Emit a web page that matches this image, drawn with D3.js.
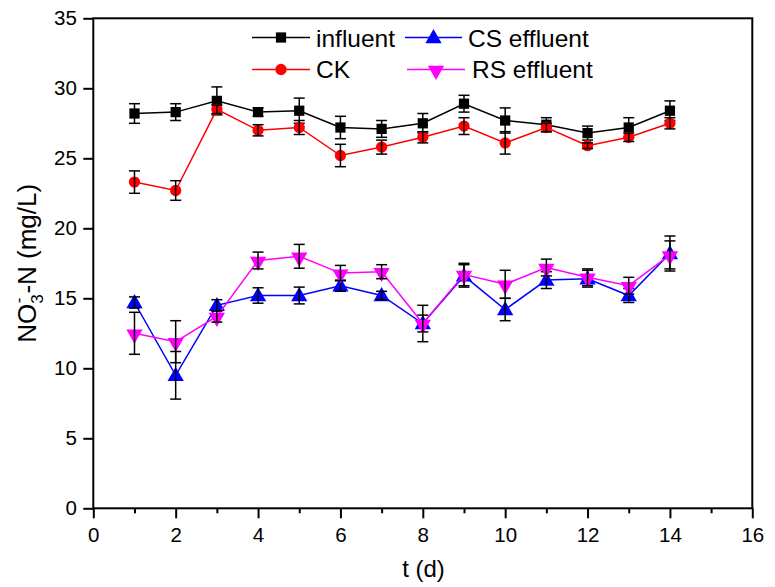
<!DOCTYPE html>
<html>
<head>
<meta charset="utf-8">
<script src="https://cdn.jsdelivr.net/npm/d3@7"></script>
<style>
  body { margin: 0; background: #fff; }
  svg text { font-family: "Liberation Sans", Arial, sans-serif; fill: #000; }
</style>
</head>
<body>
<svg id="chart"></svg>
<script>
// Days
const days = [1, 2, 3, 4, 5, 6, 7, 8, 9, 10, 11, 12, 13, 14];

// NO3--N values (mg/L) and standard deviations
const influent    = [28.2, 28.3, 29.1, 28.3, 28.4, 27.2, 27.1, 27.5, 28.9, 27.7, 27.4, 26.8, 27.2, 28.4];
const influentErr = [0.7, 0.6, 1.0, 0.3, 0.9, 0.8, 0.6, 0.7, 0.6, 0.9, 0.5, 0.5, 0.7, 0.7];
const ck          = [23.3, 22.7, 28.5, 27.0, 27.2, 25.2, 25.8, 26.5, 27.3, 26.1, 27.2, 25.9, 26.5, 27.5];
const ckErr       = [0.8, 0.7, 0.3, 0.4, 0.5, 0.8, 0.5, 0.4, 0.6, 0.8, 0.3, 0.2, 0.3, 0.4];
const csEffluent  = [14.7, 9.5, 14.5, 15.2, 15.2, 15.9, 15.2, 13.2, 16.6, 14.2, 16.3, 16.4, 15.2, 18.2];
const csErr       = [0.4, 1.7, 0.4, 0.55, 0.6, 0.4, 0.3, 1.3, 0.8, 0.8, 0.6, 0.6, 0.5, 1.25];
const rsEffluent  = [12.5, 11.9, 13.7, 17.7, 18.0, 16.8, 16.9, 13.2, 16.7, 16.0, 17.2, 16.5, 15.9, 18.1];
const rsErr       = [1.5, 1.5, 0.4, 0.6, 0.85, 0.55, 0.5, 0.6, 0.8, 1.0, 0.6, 0.6, 0.6, 1.0];

// Axis ticks
const xTicks = [0, 2, 4, 6, 8, 10, 12, 14, 16];
const xMinorTicks = [1, 3, 5, 7, 9, 11, 13, 15];
const yTicks = [0, 5, 10, 15, 20, 25, 30, 35];

// Series definitions
const series = [
    { name: 'influent',    values: influent,   errs: influentErr, color: '#000000', symbol: d3.symbolSquare },
    { name: 'CK',          values: ck,         errs: ckErr,       color: '#ff0000', symbol: d3.symbolCircle },
    { name: 'CS effluent', values: csEffluent, errs: csErr,       color: '#0000ff', symbol: d3.symbolTriangle },
    { name: 'RS effluent', values: rsEffluent, errs: rsErr,       color: '#ff00ff', symbol: 'down' }
];

// SVG dimensions
let width = 775, height = 587;
let plotLeft = 93.3, plotRight = 752.3, plotTop = 18.3, plotBottom = 508.3;

let svg = d3.select('#chart').attr('width', width).attr('height', height);

let xScale = d3.scaleLinear().domain([0, 16]).range([plotLeft, plotRight]);
let yScale = d3.scaleLinear().domain([0, 35]).range([plotBottom, plotTop]);

// Marker path for a series
function markerPath(symbol) {
    if (symbol === 'down') {
        return d3.symbol().type(d3.symbolTriangle).size(115)();
    }
    let size = symbol === d3.symbolSquare ? 105 : (symbol === d3.symbolCircle ? 100 : 115);
    return d3.symbol().type(symbol).size(size)();
}

function drawMarker(g, s, x, y) {
    let t = s.symbol === 'down'
        ? `translate(${x},${y + 1}) rotate(180)`
        : (s.symbol === d3.symbolTriangle ? `translate(${x},${y + 1})` : `translate(${x},${y})`);
    g.append('path')
        .attr('d', markerPath(s.symbol))
        .attr('transform', t)
        .attr('fill', s.color);
}

// Draw lines, markers and error bars
let line = d3.line()
    .x((d, i) => xScale(days[i]))
    .y(d => yScale(d));

series.forEach(s => {
    let g = svg.append('g');
    g.append('path')
        .attr('d', line(s.values))
        .attr('fill', 'none')
        .attr('stroke', s.color)
        .attr('stroke-width', 1.5);

    s.values.forEach((v, i) => drawMarker(g, s, xScale(days[i]), yScale(v)));

    s.values.forEach((v, i) => {
        let x = xScale(days[i]);
        let y1 = yScale(v - s.errs[i]), y2 = yScale(v + s.errs[i]);
        g.append('line').attr('x1', x).attr('x2', x).attr('y1', y1).attr('y2', y2)
            .attr('stroke', '#000').attr('stroke-width', 1.5);
        [y1, y2].forEach(yy => {
            g.append('line').attr('x1', x - 5.5).attr('x2', x + 5.5).attr('y1', yy).attr('y2', yy)
                .attr('stroke', '#000').attr('stroke-width', 1.5);
        });
    });
});

// Frame
svg.append('rect')
    .attr('x', plotLeft).attr('y', plotTop)
    .attr('width', plotRight - plotLeft).attr('height', plotBottom - plotTop)
    .attr('fill', 'none').attr('stroke', '#000').attr('stroke-width', 2);

// X axis
let xAxis = d3.axisBottom(xScale).tickValues(xTicks).tickSize(10).tickPadding(9).tickFormat(d3.format('d'));
let xg = svg.append('g').attr('transform', `translate(0, ${plotBottom})`).call(xAxis);
xg.select('.domain').remove();
xg.selectAll('line').attr('stroke-width', 2);
xg.selectAll('text').attr('font-size', 20.5).attr('font-family', '"Liberation Sans", Arial, sans-serif');

let xMinor = d3.axisBottom(xScale).tickValues(xMinorTicks).tickSize(5).tickFormat('');
let xmg = svg.append('g').attr('transform', `translate(0, ${plotBottom})`).call(xMinor);
xmg.select('.domain').remove();
xmg.selectAll('line').attr('stroke-width', 2);

// Y axis
let yAxis = d3.axisLeft(yScale).tickValues(yTicks).tickSize(10).tickPadding(6.5).tickFormat(d3.format('d'));
let yg = svg.append('g').attr('transform', `translate(${plotLeft}, 0)`).call(yAxis);
yg.select('.domain').remove();
yg.selectAll('line').attr('stroke-width', 2);
yg.selectAll('text').attr('font-size', 20.5).attr('font-family', '"Liberation Sans", Arial, sans-serif');

// Axis titles
svg.append('text')
    .attr('x', 423.5).attr('y', 577)
    .attr('text-anchor', 'middle')
    .attr('font-size', 24)
    .text('t (d)');

let yTitle = svg.append('text')
    .attr('transform', `translate(35.5, ${(plotTop + plotBottom) / 2}) rotate(-90)`)
    .attr('text-anchor', 'middle')
    .attr('font-size', 26);
yTitle.append('tspan').text('NO');
yTitle.append('tspan').attr('font-size', 17).attr('dy', 7).text('3');
yTitle.append('tspan').attr('font-size', 17).attr('dx', -9).attr('dy', -19).text('-');
yTitle.append('tspan').attr('dx', 4).attr('dy', 12).text('-N (mg/L)');

// Legend
const legendPos = [
    { x1: 252, x2: 310, y: 37.5, tx: 316, ty: 46.5 },
    { x1: 252, x2: 310, y: 69.5, tx: 316, ty: 77.5 },
    { x1: 405, x2: 462, y: 37.5, tx: 468, ty: 46.5 },
    { x1: 407, x2: 465, y: 69.5, tx: 472, ty: 77.5 }
];

series.forEach((s, i) => {
    let p = legendPos[i];
    let g = svg.append('g');
    g.append('line').attr('x1', p.x1).attr('x2', p.x2).attr('y1', p.y).attr('y2', p.y)
        .attr('stroke', s.color).attr('stroke-width', 1.5);
    drawMarker(g, s, (p.x1 + p.x2) / 2, p.y);
    g.append('text').attr('x', p.tx).attr('y', p.ty).attr('font-size', 24.5).text(s.name);
});
</script>
</body>
</html>
